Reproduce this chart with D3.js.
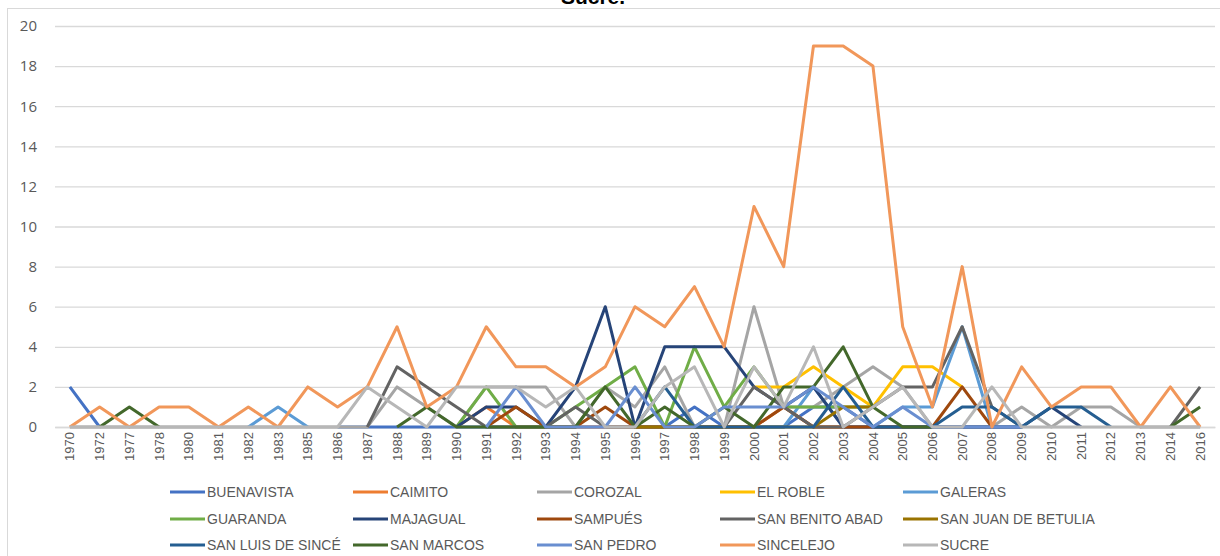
<!DOCTYPE html>
<html><head><meta charset="utf-8">
<script src="https://cdn.jsdelivr.net/npm/d3@7"></script>
<style>body{margin:0;background:#fff;} svg{display:block;}</style>
</head><body>
<svg id="chart" width="1220" height="556"></svg>
<script>
const N = null;
const years = ["1970","1972","1977","1978","1980","1981","1982","1983","1985","1986","1987","1988","1989","1990","1991","1992","1993","1994","1995","1996","1997","1998","1999","2000","2001","2002","2003","2004","2005","2006","2007","2008","2009","2010","2011","2012","2013","2014","2016"];
const yTicks = [0,2,4,6,8,10,12,14,16,18,20];
const seriesNames = ["BUENAVISTA","CAIMITO","COROZAL","EL ROBLE","GALERAS","GUARANDA","MAJAGUAL","SAMPUÉS","SAN BENITO ABAD","SAN JUAN DE BETULIA","SAN LUIS DE SINCÉ","SAN MARCOS","SAN PEDRO","SINCELEJO","SUCRE"];
const seriesColors = ["#4472C4","#ED7D31","#A5A5A5","#FFC000","#5B9BD5","#70AD47","#264478","#9E480E","#636363","#997300","#255E91","#43682B","#698ED0","#F1975A","#B7B7B7"];
//                 70 72 77 78 80 81 82 83 85 86 87 88 89 90 91 92 93 94 95 96 97 98 99 00 01 02 03 04 05 06 07 08 09 10 11 12 13 14 16
const buenavista = [2, 0, N, N, N, N, N, N, N, 0, 0, 0, 0, 0, 0, 0, 0, 0, 0, 0, 0, 1, 0, 0, 0, 1, 1, 0, 0, 0, 0, 0, 0, N, N, N, N, N, N];
const caimito    = [N, N, N, N, N, N, N, N, N, N, N, N, N, 0, 1, 0, 0, 0, 0, 0, 0, 0, 0, 0, 1, 0, 0, 0, N, N, N, N, N, N, N, N, N, N, N];
const corozal    = [0, 0, 0, 0, 0, 0, 0, 0, 0, 0, 0, 2, 1, 0, 2, 2, 2, 0, 2, 1, 3, 0, 0, 6, 1, 1, 2, 3, 2, 0, 0, 0, 1, 0, 1, 1, 0, 0, 0];
const elRoble    = [N, N, N, N, N, N, N, N, N, N, N, N, N, N, N, N, N, N, N, N, N, N, N, 2, 2, 3, 2, 1, 3, 3, 2, N, N, N, N, N, N, N, N];
const galeras    = [N, N, N, N, N, N, 0, 1, 0, N, N, N, N, N, N, N, N, N, N, N, N, N, N, 0, 0, 2, 0, 0, 1, 1, 5, 0, N, N, N, N, N, N, N];
const guaranda   = [N, N, N, N, N, N, N, N, N, N, N, N, N, 0, 2, 0, 0, 1, 2, 3, 0, 4, 1, 3, 1, 1, 1, 1, N, N, N, N, N, N, N, N, N, N, N];
const majagual   = [N, N, N, N, N, N, N, N, N, N, N, N, N, 0, 1, 1, 0, 2, 6, 0, 4, 4, 4, 2, 1, 2, 0, 0, 0, 0, 0, 0, 0, 1, 0, N, N, N, N];
const sampues    = [N, N, N, N, N, N, N, N, N, N, N, N, N, N, 0, 1, 0, 0, 1, 0, 0, 0, 0, 0, 1, 0, 0, 0, 0, 0, 2, 0, N, N, N, N, N, N, N];
const sanBenito  = [N, N, N, N, N, N, N, N, N, N, 0, 3, 2, 1, 0, 0, 0, 1, 0, 0, 0, 0, 0, 2, 1, 0, 0, 1, 2, 2, 5, 1, 0, N, N, N, N, 0, 2];
const sanJuan    = [N, N, N, N, N, N, N, N, N, N, N, N, N, N, N, N, N, N, N, 0, 0, 0, 0, 0, 0, 0, 1, 1, N, N, N, N, N, N, N, N, N, N, N];
const sanLuis    = [N, N, N, N, N, N, N, N, N, N, N, N, N, N, N, N, N, N, N, 0, 2, 0, 0, 0, 0, 0, 2, 0, 0, 0, 1, 1, 0, 1, 1, 0, N, N, N];
const sanMarcos  = [N, 0, 1, 0, N, N, N, N, N, N, N, 0, 1, 0, 0, 0, 0, 0, 2, 0, 1, 0, 1, 0, 2, 2, 4, 1, 0, 0, N, N, N, N, N, N, N, 0, 1];
const sanPedro   = [N, N, N, N, N, N, N, N, N, N, N, N, N, N, 0, 2, 0, 0, 0, 2, 0, 0, 1, 1, 1, 2, 1, 0, 1, 0, 0, 0, 0, N, N, N, N, N, N];
const sincelejo  = [0, 1, 0, 1, 1, 0, 1, 0, 2, 1, 2, 5, 1, 2, 5, 3, 3, 2, 3, 6, 5, 7, 4, 11, 8, 19, 19, 18, 5, 1, 8, 0, 3, 1, 2, 2, 0, 2, 0];
const sucre      = [0, 0, 0, 0, 0, 0, 0, 0, 0, 0, 2, 1, 0, 2, 2, 2, 1, 2, 0, 0, 2, 3, 0, 3, 1, 4, 0, 1, 2, 0, 0, 2, 0, 0, 0, 0, 0, 0, 0];
const seriesValues = [buenavista,caimito,corozal,elRoble,galeras,guaranda,majagual,sampues,sanBenito,sanJuan,sanLuis,sanMarcos,sanPedro,sincelejo,sucre];

(function(){
const svg = d3.select("#chart");
const pLeft = 55, pRight = 1215, pTop = 26, pBottom = 427;

svg.append("rect").attr("x",7.5).attr("y",8.5).attr("width",1240).attr("height",600)
  .attr("fill","none").attr("stroke","#D9D9D9").attr("stroke-width",1);

svg.append("text").attr("x",593).attr("y",4).attr("text-anchor","middle")
  .attr("font-family","Liberation Sans, Arial, sans-serif").attr("font-weight","bold")
  .attr("font-size",21).attr("fill","#000").text("Sucre.");

const x = d3.scaleBand().domain(years).range([pLeft,pRight]).padding(0);
const y = d3.scaleLinear().domain([0,20]).range([pBottom,pTop]);

const yAxis = d3.axisLeft(y).tickValues(yTicks).tickSize(-(pRight-pLeft)).tickPadding(18);
const gy = svg.append("g").attr("transform",`translate(${pLeft},0)`).call(yAxis);
gy.select(".domain").remove();
gy.selectAll(".tick line").attr("stroke","#D9D9D9").attr("stroke-width",1.3);
gy.selectAll(".tick text").attr("fill","#595959").attr("font-size",15)
  .attr("font-family","Open Sans, Liberation Sans, sans-serif");

const xAxis = d3.axisBottom(x).tickSize(0).tickPadding(0);
const gx = svg.append("g").attr("transform",`translate(0,${pBottom})`).call(xAxis);
gx.select(".domain").attr("stroke","#D9D9D9").attr("stroke-width",1.3);
gx.selectAll(".tick text")
  .attr("font-family","Liberation Sans Narrow, Liberation Sans, sans-serif")
  .attr("font-size",13).attr("fill","#595959")
  .attr("text-anchor","end").attr("dy","0.35em")
  .attr("transform","translate(0,5) rotate(-90)").attr("x",0).attr("y",0);

const line = d3.line().defined(d => d.v !== null)
  .x(d => x(d.c) + x.bandwidth()/2).y(d => y(d.v));
const g = svg.append("g");
seriesValues.forEach((vals,i) => {
  const pts = years.map((c,j) => ({c, v: vals[j]}));
  g.append("path").attr("d", line(pts)).attr("fill","none")
    .attr("stroke", seriesColors[i]).attr("stroke-width",3)
    .attr("stroke-linejoin","round").attr("stroke-linecap","butt");
});

const colX = [170,353,537,720,903];
const rowY = [492,519,545];
const lg = svg.append("g");
seriesNames.forEach((name,i) => {
  const cx = colX[i%5], cy = rowY[Math.floor(i/5)];
  lg.append("line").attr("x1",cx).attr("x2",cx+35).attr("y1",cy).attr("y2",cy)
    .attr("stroke",seriesColors[i]).attr("stroke-width",3);
  lg.append("text").attr("x",cx+37).attr("y",cy).attr("dy","0.35em")
    .attr("font-family","Liberation Sans Narrow, Liberation Sans, sans-serif")
    .attr("font-size",14).attr("fill","#595959").text(name);
});
})();
</script>
</body></html>
